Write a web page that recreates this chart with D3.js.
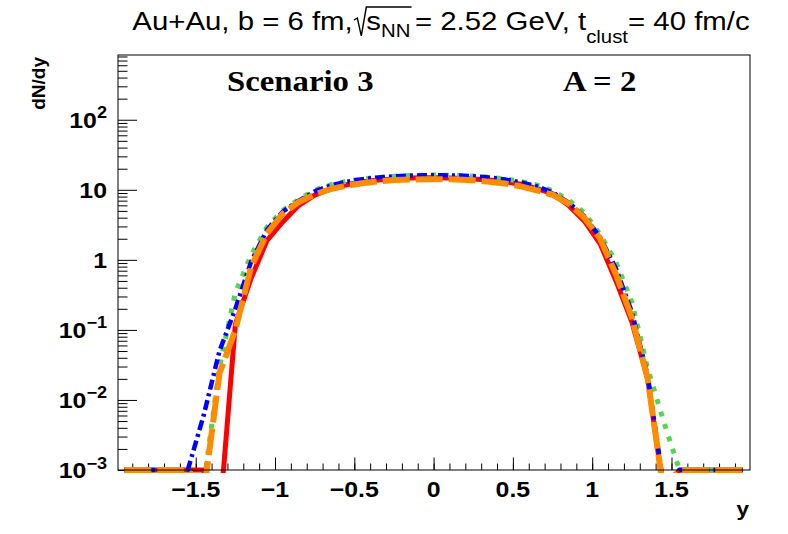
<!DOCTYPE html>
<html>
<head>
<meta charset="utf-8">
<script src="https://cdn.jsdelivr.net/npm/d3@7"></script>
<style>
  body { margin: 0; background: #fff; }
  text { font-family: 'Liberation Sans', Arial, Helvetica, sans-serif; }
</style>
</head>
<body>
<div id="chart"></div>
<script>
// rapidity bin centres
const rapidity = [-1.95, -1.85, -1.75, -1.65, -1.55, -1.45, -1.35, -1.25, -1.15, -1.05,
  -0.95, -0.85, -0.75, -0.65, -0.55, -0.45, -0.35, -0.25, -0.15, -0.05,
  0.05, 0.15, 0.25, 0.35, 0.45, 0.55, 0.65, 0.75, 0.85, 0.95,
  1.05, 1.15, 1.25, 1.35, 1.45, 1.55, 1.65, 1.75, 1.85, 1.95];

// dN/dy, one array per curve (0 = empty bin)
const dndyRed = [0, 0, 0, 0, 0, 0, 2e-4, 0.12, 0.55, 1.9,
  3.5, 6.0, 8.4, 10.3, 11.8, 13.0, 13.8, 14.3, 14.7, 14.8,
  14.8, 14.6, 14.3, 13.8, 13.0, 12.0, 10.5, 8.8, 6.0, 3.6,
  1.7, 0.5, 0.13, 0.02, 5e-4, 0, 0, 0, 0, 0];
const dndyGreen = [0, 0, 0, 0, 0, 6e-4, 0.03, 0.34, 1.17, 2.95,
  5.1, 7.3, 9.9, 11.8, 13.2, 14.3, 15.0, 15.6, 16.0, 16.2,
  16.2, 16.1, 15.7, 15.1, 14.3, 13.2, 11.7, 9.7, 7.2, 4.7,
  2.3, 0.93, 0.25, 0.028, 0.005, 0, 0, 0, 0, 0];
const dndyBlue = [0, 0, 0, 0, 0, 0.006, 0.05, 0.2, 0.95, 2.7,
  4.9, 7.0, 9.5, 11.5, 13.0, 14.2, 15.0, 15.6, 16.0, 16.1,
  16.1, 16.0, 15.6, 15.0, 14.0, 12.8, 11.2, 9.2, 6.6, 4.2,
  2.1, 0.75, 0.18, 0.022, 6e-4, 0, 0, 0, 0, 0];
const dndyOrange = [0, 0, 0, 0, 0, 4.5e-4, 0.024, 0.1, 0.8, 2.4,
  4.6, 6.7, 8.6, 10.2, 11.5, 12.4, 13.2, 13.8, 14.0, 14.2,
  14.2, 14.0, 13.7, 13.0, 12.3, 11.2, 9.8, 8.5, 6.4, 4.0,
  2.0, 0.62, 0.15, 0.02, 5e-4, 0, 0, 0, 0, 0];

const xMajorTicks = [-1.5, -1, -0.5, 0, 0.5, 1, 1.5];
const xTickLabels = ['\u22121.5', '\u22121', '\u22120.5', '0', '0.5', '1', '1.5'];
const yMajorTicks = [1e-3, 1e-2, 1e-1, 1, 10, 100];
const yTickBase = ['10', '10', '10', '1', '10', '10'];
const yTickExp = ['\u22123', '\u22122', '\u22121', '', '', '2'];

const width = 788;
const height = 534;
const frame = {left: 118, right: 750, top: 55, bottom: 470};
const stretch = 1.13; // glyphs in the picture are a bit wider than tall

const x = d3.scaleLinear().domain([-1.99, 1.995]).range([frame.left, frame.right]);
const y = d3.scaleLog().domain([1e-3, 840]).range([frame.bottom, frame.top]);

const svg = d3.select('#chart').append('svg')
  .attr('width', width)
  .attr('height', height);

svg.append('clipPath').attr('id', 'clip-frame')
  .append('rect')
  .attr('x', frame.left)
  .attr('y', frame.top)
  .attr('width', frame.right - frame.left)
  .attr('height', frame.bottom - frame.top + 3);

function stretchedText(parent, px, py, anchor, size, weight) {
  return parent.append('text')
    .attr('transform', `translate(${px},${py}) scale(${stretch},1)`)
    .attr('text-anchor', anchor)
    .attr('font-size', size)
    .attr('font-weight', weight);
}

// axes (ROOT style: ticks inside the frame)
const xMinor = d3.range(-19, 20).map((i) => i / 10);
svg.append('g')
  .attr('transform', `translate(0,${frame.bottom})`)
  .call(d3.axisBottom(x).tickValues(xMinor).tickSize(-6.5).tickFormat(''))
  .call((g) => g.select('.domain').remove());
svg.append('g')
  .attr('transform', `translate(0,${frame.bottom})`)
  .call(d3.axisBottom(x).tickValues(xMajorTicks).tickSize(-12.5).tickFormat(''))
  .call((g) => g.select('.domain').remove());

const yMinor = [];
for (let e = -3; e <= 2; e++) {
  for (let k = 2; k <= 9; k++) {
    const v = k * Math.pow(10, e);
    if (v < y.domain()[1]) yMinor.push(v);
  }
}
svg.append('g')
  .attr('transform', `translate(${frame.left},0)`)
  .call(d3.axisLeft(y).tickValues(yMinor).tickSize(-9.5).tickFormat(''))
  .call((g) => g.select('.domain').remove());
svg.append('g')
  .attr('transform', `translate(${frame.left},0)`)
  .call(d3.axisLeft(y).tickValues(yMajorTicks).tickSize(-19).tickFormat(''))
  .call((g) => g.select('.domain').remove());

svg.selectAll('.tick line').attr('stroke', '#000').attr('stroke-width', 1);

xMajorTicks.forEach((v, i) => {
  stretchedText(svg, x(v), 497, 'middle', 22, 'bold').text(xTickLabels[i]);
});

yMajorTicks.forEach((v, i) => {
  const t = stretchedText(svg, 107, y(v) + 8, 'end', 22, 'bold');
  t.append('tspan').text(yTickBase[i]);
  if (yTickExp[i]) {
    t.append('tspan').attr('font-size', 16).attr('dy', -9.5).text(yTickExp[i]);
  }
});

// curves
const curves = [
  {values: dndyRed, color: '#ff0000', width: 5, dash: null},
  {values: dndyGreen, color: '#59d354', width: 5, dash: '5,8'},
  {values: dndyBlue, color: '#0000ff', width: 4.5, dash: '10,4,3,4'},
  {values: dndyOrange, color: '#ff8c00', width: 6, dash: '27,6'}
];

const line = d3.line()
  .x((d) => x(d[0]))
  .y((d) => y(d[1] > 0 ? d[1] : y.domain()[0]));

const plot = svg.append('g').attr('clip-path', 'url(#clip-frame)');
curves.forEach((c) => {
  plot.append('path')
    .datum(rapidity.map((r, i) => [r, c.values[i]]))
    .attr('d', line)
    .attr('fill', 'none')
    .attr('stroke', c.color)
    .attr('stroke-width', c.width)
    .attr('stroke-linejoin', 'round')
    .attr('stroke-dasharray', c.dash);
});

// frame
svg.append('rect')
  .attr('x', frame.left)
  .attr('y', frame.top)
  .attr('width', frame.right - frame.left)
  .attr('height', frame.bottom - frame.top)
  .attr('fill', 'none')
  .attr('stroke', '#000')
  .attr('stroke-width', 1);

// axis titles
stretchedText(svg, 749, 516, 'end', 20, 'bold').text('y');
svg.append('text')
  .attr('transform', 'translate(45,57) rotate(-90)')
  .attr('text-anchor', 'end')
  .attr('font-size', 19)
  .attr('font-weight', 'bold')
  .text('dN/dy');

// labels inside the frame
stretchedText(svg, 227, 91, 'start', 29, 'bold')
  .style('font-family', "'Liberation Serif', 'Times New Roman', serif")
  .text('Scenario 3');
stretchedText(svg, 563, 91, 'start', 29, 'bold')
  .style('font-family', "'Liberation Serif', 'Times New Roman', serif")
  .text('A = 2');

// title with a drawn square root
const title = svg.append('g');
let cursor = 0;
function titlePiece(txt, size, dy) {
  const t = title.append('text')
    .attr('x', cursor)
    .attr('y', dy)
    .attr('font-size', size)
    .text(txt);
  cursor += t.node().getComputedTextLength();
}
titlePiece('Au+Au, b = 6 fm,', 26, 0);
const rootStart = cursor + 1;
cursor += 12;
titlePiece('s', 26, 0);
titlePiece('NN', 18, 7);
title.append('path')
  .attr('d', `M${rootStart},-10 L${rootStart + 3},-12 L${rootStart + 6.5},6 L${rootStart + 11},-23 H${cursor + 1}`)
  .attr('fill', 'none')
  .attr('stroke', '#000')
  .attr('stroke-width', 1.3);
cursor += 4;
titlePiece('= 2.52 GeV, t', 26, 0);
titlePiece('clust', 18, 13);
titlePiece(' = 40 fm/c', 26, 0);
title.attr('transform', `translate(${441 - cursor * stretch / 2},30) scale(${stretch},1)`);
</script>
</body>
</html>
